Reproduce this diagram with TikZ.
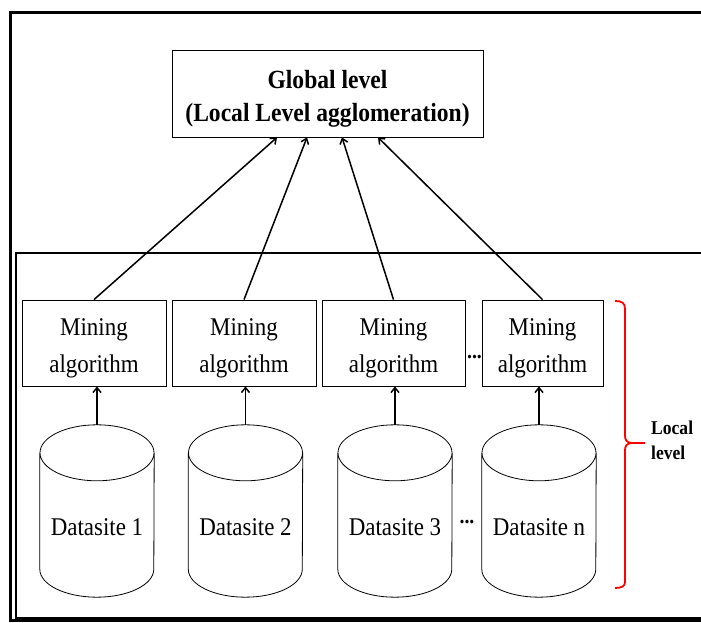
\documentclass[tikz,border=0pt]{standalone}
\usepackage{fontspec}
\setmainfont[FakeStretch=0.9]{Liberation Serif}
\usetikzlibrary{arrows.meta, positioning}

\begin{document}
\begin{tikzpicture}[x=1pt, y=1pt,
    gbox/.style={draw, line width=0.8pt, minimum width=311pt, minimum height=87pt,
                 inner sep=0pt, align=center, text height=57pt, text depth=0pt,
                 font=\bfseries\fontsize{26.2}{33}\selectfont},
    mbox/.style={draw, line width=0.8pt, minimum width=144pt, minimum height=86pt,
                 inner sep=0pt, align=center, text height=60pt, text depth=0pt,
                 font=\fontsize{25.5}{37}\selectfont},
    db/.style={minimum width=114pt, minimum height=172pt, inner sep=0pt,
               text height=50pt, text depth=0pt, font=\fontsize{25.5}{28}\selectfont},
    dbline/.style={line width=0.8pt},
    arrow/.style={-{Straight Barb[length=5pt, width=8pt]}, line width=1.5pt},
    dots/.style={inner sep=0pt, font=\bfseries\fontsize{22}{22}\selectfont},
    note/.style={inner sep=0pt, align=left, text height=40pt, text depth=0pt,
                 font=\bfseries\fontsize{19.5}{25}\selectfont}
  ]
  \useasboundingbox (0,0) rectangle (701,623);

  % frames
  \draw[line width=3pt] (701,610) -- (10,610) -- (10,2) -- (701,2);
  \draw[line width=1.8pt] (701,370) -- (16,370) -- (16,5) -- (701,5);

  \node[gbox] (g) at (327.5,529.5) {Global level\\(Local Level agglomeration)};

  \node[mbox] (m1) at (94,280)    {Mining\\algorithm};
  \node[mbox] (m2) at (244,280)   {Mining\\algorithm};
  \node[mbox, minimum width=143pt] (m3) at (393.5,280) {Mining\\algorithm};
  \node[mbox, minimum width=121pt] (m4) at (542.5,280) {Mining\\algorithm};

  \node[db] (d1) at (97,112)    {Datasite 1};
  \node[db] (d2) at (245.5,112) {Datasite 2};
  \node[db] (d3) at (395,112)   {Datasite 3};
  \node[db] (d4) at (539,112)   {Datasite n};

  % cylinder outlines
  \foreach \d in {d1,d2,d3,d4}
    \draw[dbline] ([yshift=-28pt]\d.north) ellipse [x radius=57pt, y radius=28pt]
      ([yshift=-28pt]\d.north west) -- ([yshift=28pt]\d.south west)
      arc [start angle=180, end angle=360, x radius=57pt, y radius=28pt]
      -- ([yshift=-28pt]\d.north east);

  \node[dots] (mdots) at (474.5,266) {...};
  \node[dots] (ddots) at (467,101)   {...};

  \draw[arrow] (d1.north) -- (d1.north |- m1.south);
  \draw[arrow] (d2.north) -- (d2.north |- m2.south);
  \draw[arrow] (d3.north) -- (d3.north |- m3.south);
  \draw[arrow] (d4.north) -- (d4.north |- m4.south);

  \draw[arrow] (m1.north) -- ([xshift=-50.5pt]g.south);
  \draw[arrow] (m2.north) -- ([xshift=-20.5pt]g.south);
  \draw[arrow] (m3.north) -- ([xshift=14.5pt]g.south);
  \draw[arrow] (m4.north) -- ([xshift=50.5pt]g.south);

  % local level brace
  \draw[red, line width=1.8pt]
    (615,322) .. controls (622,322) and (625,320) .. (625,314) -- (625,187)
    .. controls (625,183) and (627,180) .. (632,180) -- (645,180)
    (632,180) .. controls (627,180) and (625,177) .. (625,173) -- (625,41)
    .. controls (625,37) and (622,35) .. (615,35);
  \node[note, anchor=west] (local) at (651,183) {Local\\level};
\end{tikzpicture}
\end{document}
